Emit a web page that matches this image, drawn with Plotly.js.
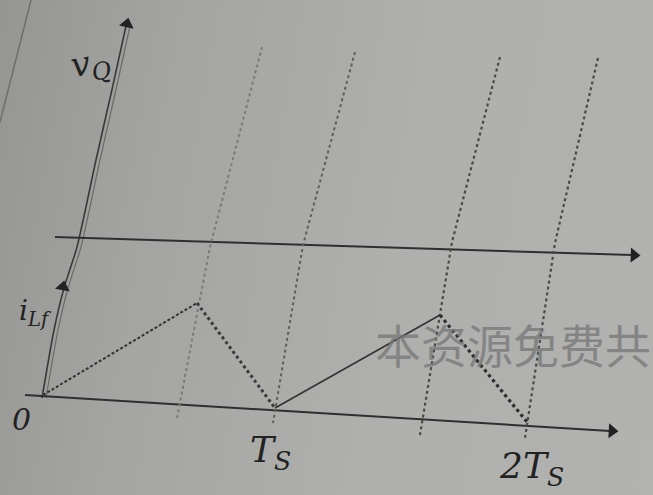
<!DOCTYPE html>
<html>
<head>
<meta charset="utf-8">
<script src="https://cdn.plot.ly/plotly-3.0.1.min.js"></script>
<style>
html,body{margin:0;padding:0;width:653px;height:495px;overflow:hidden;
background:linear-gradient(100deg,#959593 0%,#a4a4a2 25%,#afafad 60%,#b2b2b0 100%);}
#chart{width:653px;height:495px;}
</style>
</head>
<body>
<div id="chart"></div>
<script>
// Inductor current i_Lf waveform: 0 -> peak -> Ts -> peak -> 2Ts
const waveX = [43, 197, 275, 440, 527];
const waveY = [395, 303, 408, 315, 422];

// switching-instant dotted guide lines (top, middle, bottom point of each)
const guideAX = [262, 210, 177], guideAY = [47, 247, 418];
const guideBX = [355, 303, 273], guideBY = [52, 245, 423];
const guideCX = [500, 452, 420], guideCY = [57, 242, 435];
const guideDX = [598, 555, 525], guideDY = [58, 243, 438];

// vertical axis (slightly bent with the page)
const vAxisX = [42, 54, 64, 77, 96, 113, 126];
const vAxisY = [398, 330, 288, 247, 160, 85, 26];
// horizontal axes
const vqAxisX = [55, 632], vqAxisY = [237, 255];
const iAxisX = [25, 610], iAxisY = [395, 431];
// page edge
const edgeX = [31, 0], edgeY = [0, 122];
// arrow heads: position and pointing angle
const arrowX = [127, 63, 634, 612];
const arrowY = [24, 287, 255.2, 431];
const arrowAngle = [12, 11, 92, 93];

// labels
const labelText = ['<i>v</i><sub><i>Q</i></sub>', '<i>i</i><sub><i>Lf</i></sub>', '<i>0</i>', '<i>T</i><sub><i>S</i></sub>', '<i>2T</i><sub><i>S</i></sub>'];
const labelX = [90, 35, 21, 270, 531];
const labelY = [64, 312, 419, 452, 468];
const labelSize = [34, 28, 30, 36, 36];
const watermark = '本资源免费共';

const dark = '#2f2f2f';
const traces = [
  {x: edgeX, y: edgeY, mode: 'lines', line: {color: '#6e6e6c', width: 1.5}},
  {x: vAxisX.map(v => v + 4), y: vAxisY, mode: 'lines', line: {color: '#6a6a68', width: 1.2, shape: 'spline', smoothing: 0.6}},
  {x: vAxisX, y: vAxisY, mode: 'lines', line: {color: '#3a3a3a', width: 1.6, shape: 'spline', smoothing: 0.6}},
  {x: vqAxisX, y: vqAxisY, mode: 'lines', line: {color: dark, width: 2}},
  {x: iAxisX, y: iAxisY, mode: 'lines', line: {color: dark, width: 2}},
  {x: guideAX, y: guideAY, mode: 'lines', line: {color: '#7a7a78', width: 2, dash: 'dot'}},
  {x: guideBX, y: guideBY, mode: 'lines', line: {color: '#5e5e5c', width: 2, dash: 'dot'}},
  {x: guideCX, y: guideCY, mode: 'lines', line: {color: '#4a4a48', width: 2.2, dash: 'dot'}},
  {x: guideDX, y: guideDY, mode: 'lines', line: {color: '#4a4a48', width: 2.2, dash: 'dot'}},
  {x: waveX.slice(0, 2), y: waveY.slice(0, 2), mode: 'lines', line: {color: '#333', width: 2, dash: '3px,2px'}},
  {x: waveX.slice(1, 3), y: waveY.slice(1, 3), mode: 'lines', line: {color: '#3a3a3a', width: 3, dash: 'dot'}},
  {x: waveX.slice(2, 4), y: waveY.slice(2, 4), mode: 'lines', line: {color: '#333', width: 1.6}},
  {x: waveX.slice(3, 5), y: waveY.slice(3, 5), mode: 'lines', line: {color: '#2e2e2e', width: 3.2, dash: 'dot'}},
  {x: arrowX, y: arrowY, mode: 'markers',
   marker: {symbol: 'triangle-up', size: 13, angle: arrowAngle, color: '#222', line: {width: 0}}}
];

const labels = labelText.map((t, i) => ({x: labelX[i], y: labelY[i], xref: 'x', yref: 'y', text: t,
  showarrow: false, textangle: i === 0 ? -10 : 0,
  font: {family: '"DejaVu Serif", serif', size: labelSize[i], color: '#222'}}));

labels.push({x: 373, y: 343, xref: 'x', yref: 'y', xanchor: 'left', text: watermark, showarrow: false,
  font: {family: '"Noto Sans CJK SC", sans-serif', size: 46, color: 'rgba(118,118,118,0.75)'}});

const layout = {
  width: 653, height: 495,
  margin: {l: 0, r: 0, t: 0, b: 0},
  paper_bgcolor: 'rgba(0,0,0,0)', plot_bgcolor: 'rgba(0,0,0,0)',
  showlegend: false,
  xaxis: {range: [0, 653], visible: false, fixedrange: true},
  yaxis: {range: [495, 0], visible: false, fixedrange: true},
  annotations: labels
};
traces.forEach(t => { t.hoverinfo = 'skip'; });
Plotly.newPlot('chart', traces, layout, {staticPlot: true, displayModeBar: false});
</script>
</body>
</html>
